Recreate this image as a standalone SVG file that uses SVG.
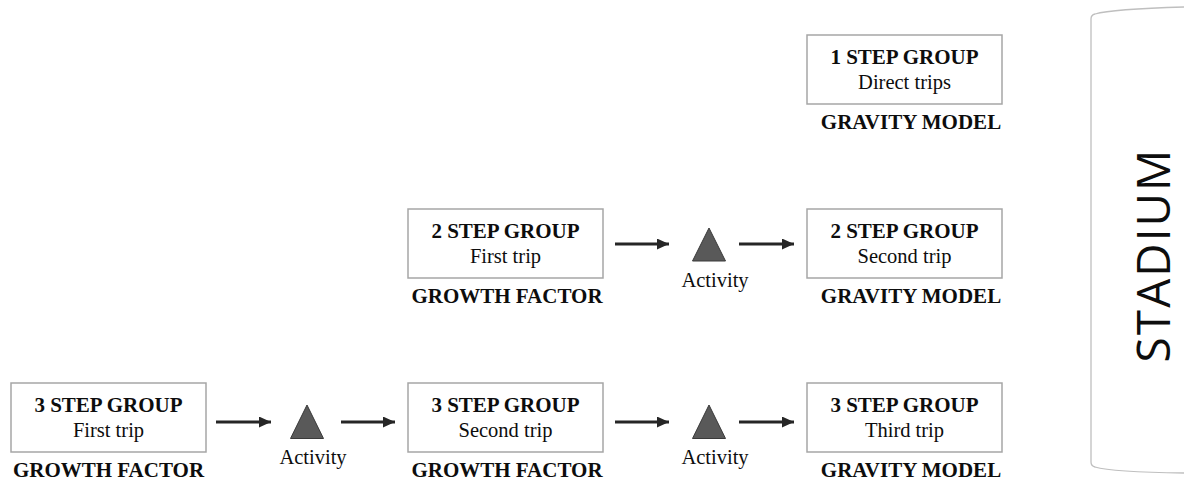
<svg xmlns="http://www.w3.org/2000/svg" width="1184" height="481" viewBox="0 0 1184 481">
<style>
.box{fill:#fff;stroke:#a6a6a6;stroke-width:1.5}
.t{font-family:"Liberation Serif","Times New Roman",serif;font-size:20.5px;fill:#0d0d0d;text-anchor:middle}
.b{font-weight:bold;font-size:21px}
.tri{fill:#595959;stroke:#3a3a3a;stroke-width:1}
.arr{stroke:#262626;stroke-width:3;fill:none;marker-end:url(#ah)}
</style>
<defs>
<marker id="ah" markerUnits="userSpaceOnUse" markerWidth="12" markerHeight="11" refX="12" refY="5.5" orient="auto">
<path d="M0,0 L12,5.5 L0,11 z" fill="#262626"/>
</marker>
</defs>
<rect width="1184" height="481" fill="#fff"/>
<g id="stadium">
<path d="M1184,7 Q1112,9 1095,14 Q1091,15 1091,19 V462 Q1091,466 1095,467 Q1112,472 1184,473" fill="none" stroke="#bfbfbf" stroke-width="1.3"/>
<text transform="translate(1170,255) rotate(-90)" text-anchor="middle" font-family="'Open Sans','DejaVu Sans',sans-serif" font-size="46" fill="#0d0d0d" letter-spacing="2">STADIUM</text>
</g>
<g id="connectors">
<line class="arr" x1="216" y1="422" x2="271" y2="422"/>
<line class="arr" x1="341" y1="422" x2="395" y2="422"/>
<line class="arr" x1="615" y1="422" x2="669" y2="422"/>
<line class="arr" x1="739" y1="422" x2="794" y2="422"/>
<line class="arr" x1="615" y1="244" x2="669" y2="244"/>
<line class="arr" x1="739" y1="244" x2="794" y2="244"/>
</g>
<g id="step1-direct">
<rect class="box" x="807" y="35" width="195" height="69"/>
<text class="t b" x="904.5" y="64">1 STEP GROUP</text>
<text class="t" x="904.5" y="89">Direct trips</text>
<text class="t b" x="911" y="129">GRAVITY MODEL</text>
</g>
<g id="step2-first">
<rect class="box" x="408" y="209" width="195" height="69"/>
<text class="t b" x="505.5" y="238">2 STEP GROUP</text>
<text class="t" x="505.5" y="263">First trip</text>
<text class="t b" x="507" y="303">GROWTH FACTOR</text>
</g>
<g id="activity-2a">
<polygon class="tri" points="709,228 692.5,261 725.5,261"/>
<text class="t" x="715" y="287">Activity</text>
</g>
<g id="step2-second">
<rect class="box" x="807" y="209" width="195" height="69"/>
<text class="t b" x="904.5" y="238">2 STEP GROUP</text>
<text class="t" x="904.5" y="263">Second trip</text>
<text class="t b" x="911" y="303">GRAVITY MODEL</text>
</g>
<g id="step3-first">
<rect class="box" x="11" y="383" width="195" height="69"/>
<text class="t b" x="108.5" y="412">3 STEP GROUP</text>
<text class="t" x="108.5" y="437">First trip</text>
<text class="t b" x="108.5" y="477">GROWTH FACTOR</text>
</g>
<g id="activity-3a">
<polygon class="tri" points="307,405 290.5,438.5 323.5,438.5"/>
<text class="t" x="313" y="464">Activity</text>
</g>
<g id="step3-second">
<rect class="box" x="408" y="383" width="195" height="69"/>
<text class="t b" x="505.5" y="412">3 STEP GROUP</text>
<text class="t" x="505.5" y="437">Second trip</text>
<text class="t b" x="507" y="477">GROWTH FACTOR</text>
</g>
<g id="activity-3b">
<polygon class="tri" points="709,405 692.5,438.5 725.5,438.5"/>
<text class="t" x="715" y="464">Activity</text>
</g>
<g id="step3-third">
<rect class="box" x="807" y="383" width="195" height="69"/>
<text class="t b" x="904.5" y="412">3 STEP GROUP</text>
<text class="t" x="904.5" y="437">Third trip</text>
<text class="t b" x="911" y="477">GRAVITY MODEL</text>
</g>
</svg>
